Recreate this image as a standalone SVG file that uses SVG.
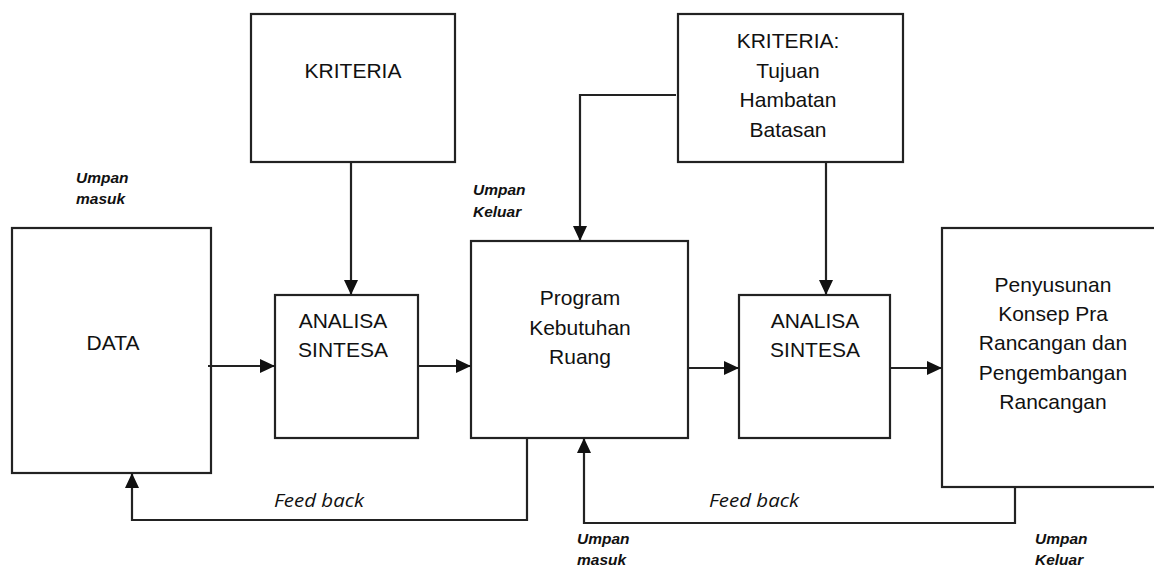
<svg xmlns="http://www.w3.org/2000/svg" width="1154" height="568" viewBox="0 0 1154 568">
<style>
.box{fill:#fff;stroke:#222;stroke-width:2.2}
.t{font-family:"Liberation Sans",Arial,sans-serif;font-size:21px;fill:#111;text-anchor:middle}
.u{font-family:"Liberation Sans",Arial,sans-serif;font-size:15.5px;font-weight:bold;font-style:italic;fill:#111}
.fb{font-family:"Open Sans","Liberation Sans",sans-serif;font-size:19px;font-style:italic;fill:#111}
.c{fill:none;stroke:#222;stroke-width:2.2}
</style>
<defs>
<marker id="ah" markerUnits="userSpaceOnUse" markerWidth="16" markerHeight="16" refX="15" refY="8" orient="auto">
<path d="M0,1 L15,8 L0,15 Z" fill="#111"/>
</marker>
</defs>
<rect width="1154" height="568" fill="#fff"/>
<g id="kriteria1"><rect class="box" x="251" y="14" width="204" height="148"/><text class="t" x="353" y="78">KRITERIA</text></g>
<g id="kriteria2"><rect class="box" x="678" y="14" width="225" height="148"/>
<text class="t" x="788" y="48">KRITERIA:</text><text class="t" x="788" y="78">Tujuan</text><text class="t" x="788" y="107">Hambatan</text><text class="t" x="788" y="137">Batasan</text></g>
<g id="data"><rect class="box" x="12" y="228" width="199" height="245"/><text class="t" x="113" y="350">DATA</text></g>
<g id="analisa1"><rect class="box" x="275" y="295" width="143" height="143"/><text class="t" x="343" y="328">ANALISA</text><text class="t" x="343" y="357">SINTESA</text></g>
<g id="program"><rect class="box" x="471" y="241" width="217" height="197"/><text class="t" x="580" y="305">Program</text><text class="t" x="580" y="335">Kebutuhan</text><text class="t" x="580" y="364">Ruang</text></g>
<g id="analisa2"><rect class="box" x="739" y="295" width="151" height="143"/><text class="t" x="815" y="328">ANALISA</text><text class="t" x="815" y="357">SINTESA</text></g>
<g id="penyusunan"><rect class="box" x="942" y="228" width="216" height="259"/>
<text class="t" x="1053" y="292">Penyusunan</text><text class="t" x="1053" y="321">Konsep Pra</text><text class="t" x="1053" y="350">Rancangan dan</text><text class="t" x="1053" y="380">Pengembangan</text><text class="t" x="1053" y="409">Rancangan</text></g>
<g id="connectors">
<line class="c" x1="208" y1="366" x2="275" y2="366" marker-end="url(#ah)"/>
<line class="c" x1="418" y1="366" x2="471" y2="366" marker-end="url(#ah)"/>
<line class="c" x1="688" y1="368" x2="739" y2="368" marker-end="url(#ah)"/>
<line class="c" x1="890" y1="368" x2="942" y2="368" marker-end="url(#ah)"/>
<line class="c" x1="351" y1="162" x2="351" y2="295" marker-end="url(#ah)"/>
<polyline class="c" points="676,95 580,95 580,241" marker-end="url(#ah)"/>
<line class="c" x1="826" y1="162" x2="826" y2="295" marker-end="url(#ah)"/>
<polyline class="c" points="527,438 527,520 132,520 132,473" marker-end="url(#ah)"/>
<polyline class="c" points="1015,487 1015,523 584,523 584,438" marker-end="url(#ah)"/>
</g>
<g id="labels">
<text class="u" x="76" y="183">Umpan</text><text class="u" x="76" y="204">masuk</text>
<text class="u" x="473" y="195">Umpan</text><text class="u" x="473" y="217">Keluar</text>
<text class="u" x="577" y="544">Umpan</text><text class="u" x="577" y="565">masuk</text>
<text class="u" x="1035" y="544">Umpan</text><text class="u" x="1035" y="565">Keluar</text>
<text class="fb" x="274" y="507" textLength="90" lengthAdjust="spacingAndGlyphs">Feed back</text>
<text class="fb" x="709" y="507" textLength="90" lengthAdjust="spacingAndGlyphs">Feed back</text>
</g>
</svg>
